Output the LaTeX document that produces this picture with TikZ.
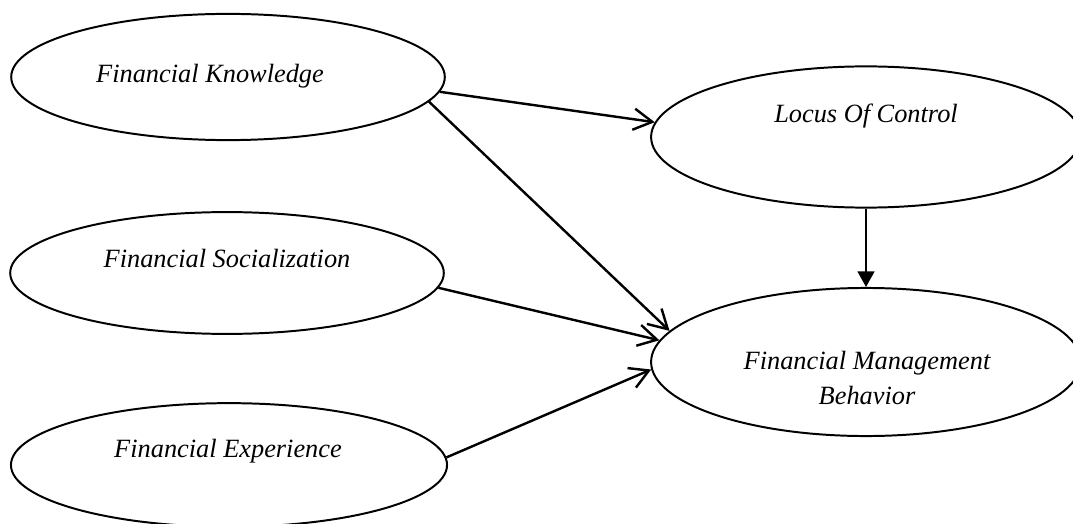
\documentclass[tikz,border=0pt]{standalone}
\usepackage{fontspec}
\setmainfont{Liberation Serif}
\usetikzlibrary{shapes,arrows.meta,positioning}
\tikzstyle{var}=[ellipse,draw,line width=0.9pt,inner sep=0pt]
\tikzstyle{lbl}=[font=\fontsize{12}{16}\selectfont\itshape,align=center,inner sep=0pt]
\tikzstyle{arr}=[-{Straight Barb[length=3mm,width=3.4mm]},line width=1.1pt]
\tikzstyle{arrf}=[-{Triangle[length=2.5mm,width=2.7mm]},line width=0.9pt]

\begin{document}
\begin{tikzpicture}[x=0.016cm,y=-0.016cm]
\useasboundingbox (0,0) rectangle (1073,523);
% variables
\node[var,minimum width=6.94cm,minimum height=2.02cm] (fk) at (228,77) {};
\node[var,minimum width=6.94cm,minimum height=1.95cm] (fs) at (227,273) {};
\node[var,minimum width=6.98cm,minimum height=1.98cm] (fe) at (229,465) {};
\node[var,minimum width=6.88cm,minimum height=2.26cm] (loc) at (866,137) {};
\node[var,minimum width=6.88cm,minimum height=2.37cm] (fmb) at (866,362) {};
% labels
\node[lbl,anchor=base] (fk-t) at (210,83) {Financial Knowledge};
\node[lbl,anchor=base] (fs-t) at (227,267) {Financial Socialization};
\node[lbl,anchor=base] (fe-t) at (228,457) {Financial Experience};
\node[lbl,anchor=base] (loc-t) at (866,123) {Locus Of Control};
\node[lbl] (fmb-t) at (867,378) {Financial Management\\Behavior};
% paths
\draw[arr] (fk.-4) -- (loc.176);
\draw[arr] (fk.-7) -- (fmb.171);
\draw[arr] (fs.-4) -- (fmb.174);
\draw[arr] (fe.2) -- (fmb.182);
\draw[arrf] (loc.south) -- (fmb.north);
\end{tikzpicture}
\end{document}
